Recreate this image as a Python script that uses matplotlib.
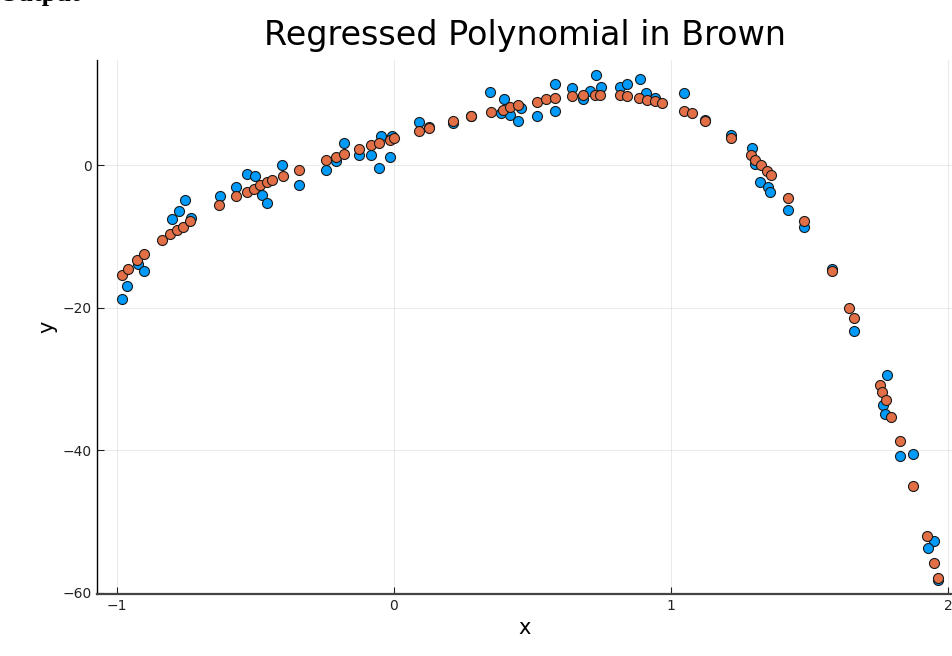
import matplotlib.pyplot as plt

# observed samples (blue)
x_obs = [-0.982, -0.964, -0.922, -0.900, -0.754, -0.775, -0.802, -0.733, -0.627, -0.570,
         -0.528, -0.501, -0.474, -0.456, -0.405, -0.343, -0.245, -0.179, -0.209, -0.125,
         -0.084, -0.053, -0.047, -0.012, -0.005, 0.090, 0.127, 0.212, 0.277, 0.346,
         0.397, 0.388, 0.421, 0.448, 0.460, 0.515, 0.581, 0.581, 0.643, 0.683,
         0.707, 0.728, 0.749, 0.815, 0.841, 0.887, 0.909, 0.941, 1.049, 1.122,
         1.218, 1.294, 1.302, 1.323, 1.350, 1.358, 1.422, 1.482, 1.582, 1.659,
         1.779, 1.765, 1.774, 1.825, 1.875, 1.951, 1.927, 1.963]
y_obs = [-18.7, -17.0, -13.8, -14.9, -4.8, -6.4, -7.5, -7.4, -4.3, -3.1,
         -1.2, -1.5, -4.2, -5.3, 0.1, -2.8, -0.7, 3.1, 0.6, 1.4,
         1.4, -0.3, 4.1, 1.2, 4.1, 6.1, 5.4, 6.0, 6.9, 10.3,
         9.3, 7.3, 7.1, 6.3, 8.0, 7.0, 11.4, 7.7, 10.8, 9.3,
         10.5, 12.7, 11.0, 11.0, 11.4, 12.1, 10.1, 9.4, 10.2, 6.4,
         4.2, 2.5, 0.2, -2.4, -3.0, -3.8, -6.2, -8.7, -14.6, -23.3,
         -29.4, -33.7, -34.9, -40.8, -40.6, -52.8, -53.7, -58.2]

# fitted polynomial values (brown)
x_fit = [-0.982, -0.958, -0.926, -0.900, -0.838, -0.808, -0.781, -0.762, -0.736, -0.630,
         -0.570, -0.531, -0.505, -0.483, -0.459, -0.441, -0.401, -0.342, -0.243, -0.209,
         -0.179, -0.125, -0.084, -0.053, -0.014, 0.000, 0.090, 0.127, 0.212, 0.278,
         0.352, 0.394, 0.421, 0.448, 0.515, 0.551, 0.581, 0.643, 0.683, 0.725,
         0.743, 0.815, 0.841, 0.885, 0.914, 0.941, 0.968, 1.049, 1.077, 1.122,
         1.218, 1.290, 1.304, 1.326, 1.348, 1.360, 1.422, 1.482, 1.582, 1.644,
         1.659, 1.755, 1.762, 1.777, 1.795, 1.825, 1.875, 1.925, 1.951, 1.963]
y_fit = [-15.4, -14.6, -13.3, -12.4, -10.5, -9.7, -9.1, -8.6, -7.8, -5.5,
         -4.3, -3.7, -3.3, -2.8, -2.4, -2.1, -1.5, -0.6, 0.8, 1.2,
         1.6, 2.3, 2.8, 3.2, 3.6, 3.8, 4.8, 5.2, 6.2, 7.0,
         7.5, 7.8, 8.2, 8.5, 8.9, 9.3, 9.4, 9.7, 9.9, 9.9,
         9.9, 9.9, 9.7, 9.5, 9.2, 9.1, 8.8, 7.6, 7.3, 6.2,
         3.9, 1.4, 0.8, 0.1, -0.8, -1.4, -4.6, -7.8, -14.9, -20.0,
         -21.4, -30.8, -31.8, -33.0, -35.4, -38.7, -45.1, -52.1, -55.8, -58.0]

xticks = [-1, 0, 1, 2]
yticks = [-60, -40, -20, 0]

fig = plt.figure(figsize=(9.53, 6.56), dpi=100)
ax = fig.add_axes([97 / 953, 62 / 656, 1 - 97 / 953, 1 - 62 / 656 - 60 / 656])

ax.scatter(x_obs, y_obs, s=52, color='#009AF9', edgecolors='#1a1a1a', linewidths=0.8, zorder=3)
ax.scatter(x_fit, y_fit, s=52, color='#E26F46', edgecolors='#1a1a1a', linewidths=0.8, zorder=4)

ax.set_xlim(-1.071, 2.018)
ax.set_ylim(-60.2, 14.8)
ax.set_xticks(xticks)
ax.set_yticks(yticks)
ax.set_xticklabels(['\u22121', '0', '1', '2'])
ax.set_yticklabels(['\u221260', '\u221240', '\u221220', '0'])
ax.grid(True, color='black', alpha=0.08, linewidth=0.8)
ax.set_axisbelow(True)
for side in ['top', 'right']:
    ax.spines[side].set_visible(False)
ax.spines['left'].set_linewidth(1.0)
ax.spines['bottom'].set_linewidth(1.6)
ax.spines['bottom'].set_color('#444444')
ax.tick_params(direction='in', length=5, labelsize=10, colors='#222222')

ax.set_title('Regressed Polynomial in Brown', fontsize=24, pad=11)
ax.set_xlabel('x', fontsize=15)
ax.set_ylabel('y', fontsize=15)

# header text from the page, cut off at the top edge
fig.text(-0.001, 1 - 1 / 656, 'Output', family='Liberation Serif', weight='bold',
         fontsize=19, va='baseline', ha='left')

fig.savefig('out.png', dpi=100)
